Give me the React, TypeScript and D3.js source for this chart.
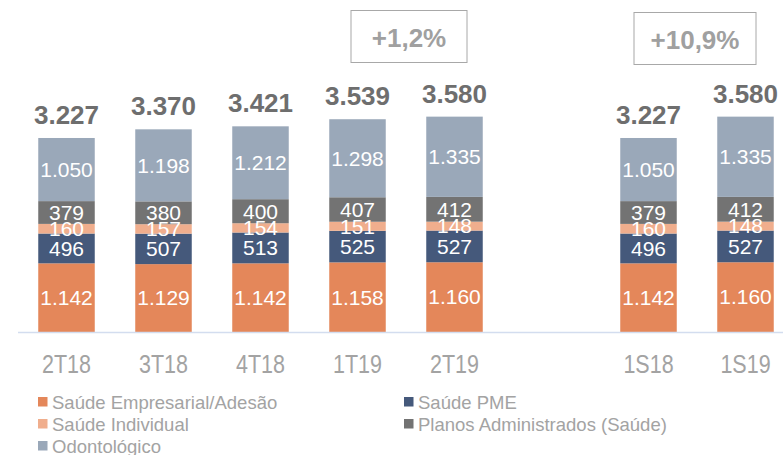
import React from "react";
import * as d3 from "d3";

const categories = ["2T18", "3T18", "4T18", "1T19", "2T19", "1S18", "1S19"];
const slots = ["2T18", "3T18", "4T18", "1T19", "2T19", "gap", "1S18", "1S19"];
const empresarial = [1142, 1129, 1142, 1158, 1160, 1142, 1160];
const pme = [496, 507, 513, 525, 527, 496, 527];
const individual = [160, 157, 154, 151, 148, 160, 148];
const planos = [379, 380, 400, 407, 412, 379, 412];
const odonto = [1050, 1198, 1212, 1298, 1335, 1050, 1335];
const totals = ["3.227", "3.370", "3.421", "3.539", "3.580", "3.227", "3.580"];
const seriesNames = [
  "Saúde Empresarial/Adesão",
  "Saúde PME",
  "Saúde Individual",
  "Planos Administrados (Saúde)",
  "Odontológico",
];
const seriesKeys = ["empresarial", "pme", "individual", "planos", "odonto"];
const colors = ["#e4875a", "#45597b", "#f0ae8d", "#737373", "#9aa8b9"];
const growthLabels = ["+1,2%", "+10,9%"];

const W = 783;
const H = 455;
const fmt = (v: number) => d3.format(",")(v).replace(/,/g, ".");

export default function App() {
  const rows = categories.map((c, i) => ({
    cat: c,
    empresarial: empresarial[i],
    pme: pme[i],
    individual: individual[i],
    planos: planos[i],
    odonto: odonto[i],
  }));
  const stack = d3.stack<any>().keys(seriesKeys)(rows);

  const pi = 0.4175;
  const x = d3
    .scaleBand<string>()
    .domain(slots)
    .range([18, 794])
    .paddingInner(pi)
    .paddingOuter(pi / 2);
  const y = d3.scaleLinear().domain([0, 5522]).range([332, 0]);
  const bw = x.bandwidth();

  const legendPos = [
    [38, 397],
    [404, 397],
    [38, 419],
    [404, 419],
    [38, 441],
  ];

  const boxes = [
    { label: growthLabels[0], cx: (x("1T19")! + x("2T19")! + bw) / 2 + 3, y0: 10, w: 116 },
    { label: growthLabels[1], cx: (x("1S18")! + x("1S19")! + bw) / 2 - 2, y0: 12, w: 122 },
  ];

  return (
    <svg
      width={W}
      height={H}
      style={{ position: "absolute", left: 0, top: 0, background: "#fff" }}
      fontFamily="'Liberation Sans', Arial, sans-serif"
    >
      {stack.map((s, si) => (
        <g key={s.key} fill={colors[si]}>
          {s.map((d, i) => (
            <rect
              key={i}
              x={x(categories[i])!}
              y={y(d[1])}
              width={bw}
              height={y(d[0]) - y(d[1])}
            />
          ))}
        </g>
      ))}
      {stack.map((s, si) => (
        <g key={"l" + s.key} fill="#fff" fontSize={21} textAnchor="middle">
          {s.map((d, i) => (
            <text
              key={i}
              x={x(categories[i])! + bw / 2}
              y={(y(d[0]) + y(d[1])) / 2}
              dy="0.35em"
            >
              {fmt(d[1] - d[0])}
            </text>
          ))}
        </g>
      ))}
      {categories.map((c, i) => {
        const top = stack[stack.length - 1][i][1];
        return (
          <text
            key={"t" + c}
            x={x(c)! + bw / 2}
            y={y(top) - 14}
            textAnchor="middle"
            fontSize={26}
            fontWeight="bold"
            fill="#6e6e6e"
          >
            {totals[i]}
          </text>
        );
      })}
      <line x1={18} x2={W} y1={332.5} y2={332.5} stroke="#d3ddef" strokeWidth={1.5} />
      {categories.map((c) => (
        <text
          key={"a" + c}
          transform={`translate(${x(c)! + bw / 2},373) scale(0.86,1)`}
          textAnchor="middle"
          fontSize={25}
          fill="#a3a3a3"
        >
          {c}
        </text>
      ))}
      {boxes.map((b, i) => (
        <g key={"b" + i}>
          <rect
            x={b.cx - b.w / 2}
            y={b.y0 + 0.5}
            width={b.w}
            height={52}
            fill="#fff"
            stroke="#a8a8a8"
            strokeWidth={1}
          />
          <text
            x={b.cx}
            y={b.y0 + 37}
            textAnchor="middle"
            fontSize={26}
            fontWeight="bold"
            fill="#a0a0a0"
          >
            {b.label}
          </text>
        </g>
      ))}
      {seriesNames.map((n, i) => (
        <g key={"lg" + i}>
          <rect x={legendPos[i][0]} y={legendPos[i][1]} width={9.5} height={9.5} fill={colors[i]} />
          <text
            x={legendPos[i][0] + 14}
            y={legendPos[i][1] + 11.5}
            fontSize={18.5}
            fill="#a3a3a3"
          >
            {n}
          </text>
        </g>
      ))}
    </svg>
  );
}
